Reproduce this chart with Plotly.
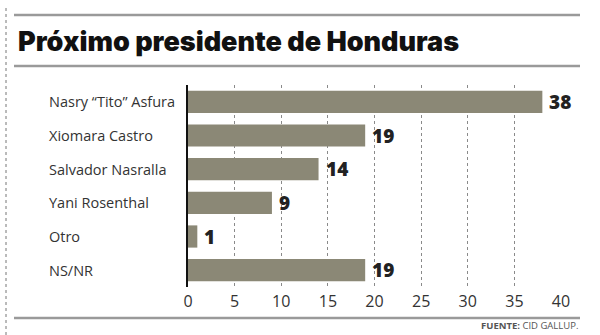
import plotly.graph_objects as go

# Encuesta CID Gallup: intención de voto (%)
candidatos = ["Nasry \u201cTito\u201d Asfura", "Xiomara Castro", "Salvador Nasralla",
              "Yani Rosenthal", "Otro", "NS/NR"]
porcentajes = [38, 19, 14, 9, 1, 19]
ticks_x = [0, 5, 10, 15, 20, 25, 30, 35, 40]

BAR = "#8b8876"
W, H = 600, 335
L, R, T, B = 188, 39, 85, 48
PW, PH = W - L - R, H - T - B


def px(x):
    """Píxel horizontal -> coordenada paper."""
    return (x - L) / PW


def py(y):
    """Píxel vertical (desde arriba) -> coordenada paper."""
    return 1 - (y - T) / PH


fig = go.Figure()
fig.add_trace(go.Bar(
    x=porcentajes, y=candidatos, orientation="h",
    marker=dict(color=BAR, line=dict(width=0)),
    width=0.66, hoverinfo="skip",
))

# Valores al final de cada barra
for c, v in zip(candidatos, porcentajes):
    fig.add_annotation(
        x=v, xref="x", y=c, yref="y", text=str(v), showarrow=False,
        xanchor="left", xshift=5,
        font=dict(family="Open Sans", size=19, color="#222222", weight=800),
    )

fig.update_layout(
    width=W, height=H,
    margin=dict(l=L, r=R, t=T, b=B),
    paper_bgcolor="white", plot_bgcolor="white",
    showlegend=False,
    font=dict(family="Open Sans", color="#333333"),
)
fig.update_xaxes(
    range=[0, 40], tickvals=ticks_x, ticktext=[str(t) for t in ticks_x],
    showgrid=True, gridcolor="#8a8a8a", griddash="dot", gridwidth=1,
    zeroline=False, showline=False, ticks="",
    tickfont=dict(family="Open Sans", size=16, color="#333333"),
    ticklabelstandoff=3, fixedrange=True,
)
fig.update_yaxes(
    categoryorder="array", categoryarray=candidatos[::-1],
    showticklabels=False, showgrid=False, zeroline=False,
    showline=True, linecolor="#111111", linewidth=2, fixedrange=True,
)

# Etiquetas de categoría alineadas a la izquierda
for c in candidatos:
    fig.add_annotation(
        x=px(47), xref="paper", y=c, yref="y", text=c, showarrow=False,
        xanchor="left",
        font=dict(family="Open Sans", size=14.5, color="#333333", weight=500),
    )

# Título
fig.add_annotation(
    x=px(16), xref="paper", y=py(41), yref="paper", yanchor="middle",
    text="Pr\u00f3ximo presidente de Honduras", showarrow=False, xanchor="left",
    font=dict(family="Inter", size=27, color="#111111", weight=900),
)

# Filetes horizontales
for yy in (15, 66, 318):
    fig.add_shape(type="line", xref="paper", yref="paper",
                  x0=px(14), x1=px(580), y0=py(yy), y1=py(yy),
                  line=dict(color="#9a9a9a", width=2.5))

# Línea punteada del margen izquierdo
fig.add_shape(type="line", xref="paper", yref="paper",
              x0=px(6), x1=px(6), y0=py(335), y1=py(8),
              line=dict(color="#777777", width=1, dash="dot"))

# Fuente
fig.add_annotation(
    x=px(580), xref="paper", y=py(325), yref="paper", yanchor="middle",
    text="<b>FUENTE:</b> CID GALLUP.", showarrow=False, xanchor="right",
    font=dict(family="Open Sans", size=9.5, color="#555555"),
)

fig.write_html("out.html")
